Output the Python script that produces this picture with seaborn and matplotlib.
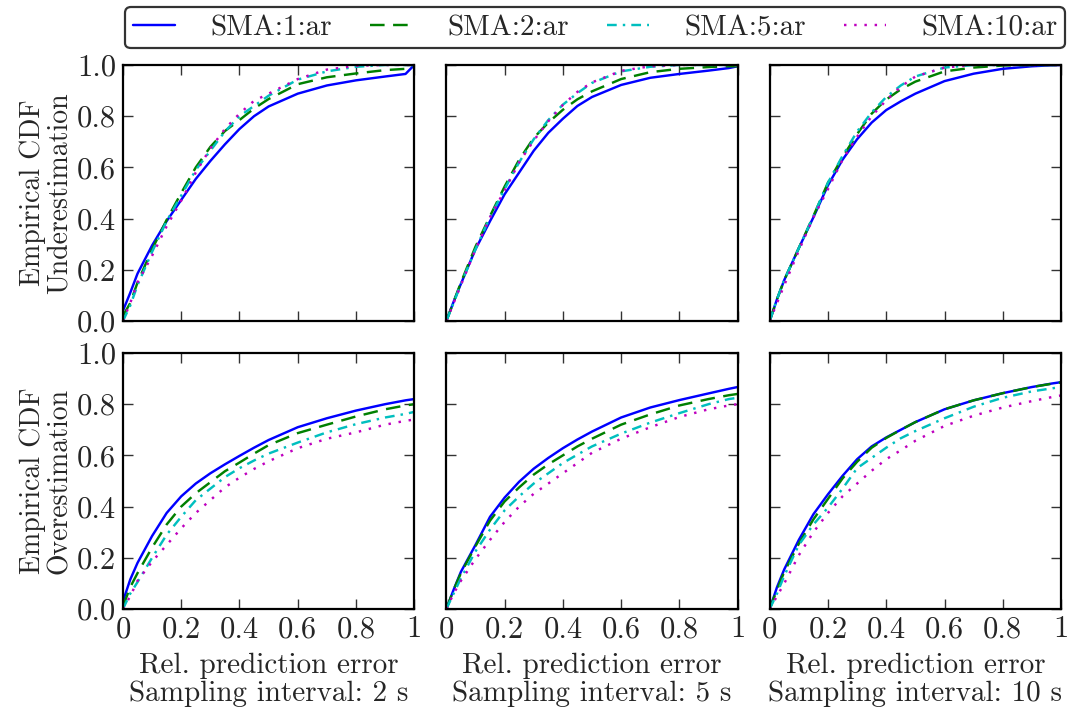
import numpy as np
import pandas as pd
import matplotlib
matplotlib.use("Agg")
import matplotlib.pyplot as plt
from matplotlib.ticker import FixedLocator, FixedFormatter
import seaborn as sns

# ---------------- data ----------------
models = ["SMA:1:ar", "SMA:2:ar", "SMA:5:ar", "SMA:10:ar"]
intervals = ["2 s", "5 s", "10 s"]
err_grid = [0, 0.025, 0.05, 0.1, 0.15, 0.2, 0.25, 0.3, 0.35, 0.4, 0.45, 0.5, 0.6, 0.7, 0.8, 0.9, 0.97, 1.0]

# Underestimation, 2 s
under_2s_sma1 = [0.04, 0.11, 0.185, 0.295, 0.39, 0.473, 0.555, 0.625, 0.69, 0.75, 0.8, 0.838, 0.888, 0.92, 0.94, 0.955, 0.965, 1.0]
under_2s_sma2 = [0.02, 0.07, 0.15, 0.28, 0.395, 0.5, 0.6, 0.68, 0.742, 0.785, 0.83, 0.867, 0.925, 0.952, 0.967, 0.98, 0.985, 0.99]
under_2s_sma5 = [0.0, 0.06, 0.14, 0.27, 0.39, 0.49, 0.59, 0.665, 0.74, 0.8, 0.84, 0.88, 0.943, 0.975, 0.993, 1.0, 1.0, 1.0]
under_2s_sma10 = [0.0, 0.07, 0.15, 0.255, 0.37, 0.47, 0.58, 0.674, 0.75, 0.81, 0.86, 0.888, 0.945, 0.982, 0.997, 1.0, 1.0, 1.0]
# Underestimation, 5 s
under_5s_sma1 = [0.0, 0.075, 0.145, 0.28, 0.39, 0.495, 0.58, 0.665, 0.735, 0.79, 0.84, 0.875, 0.922, 0.95, 0.965, 0.978, 0.988, 0.995]
under_5s_sma2 = [0.0, 0.075, 0.15, 0.29, 0.41, 0.525, 0.63, 0.715, 0.775, 0.825, 0.866, 0.897, 0.945, 0.972, 0.985, 0.992, 0.995, 0.995]
under_5s_sma5 = [0.0, 0.07, 0.145, 0.28, 0.405, 0.515, 0.62, 0.71, 0.785, 0.845, 0.89, 0.93, 0.975, 0.993, 1.0, 1.0, 1.0, 1.0]
under_5s_sma10 = [0.0, 0.07, 0.14, 0.28, 0.405, 0.51, 0.62, 0.705, 0.78, 0.844, 0.895, 0.932, 0.977, 0.995, 1.0, 1.0, 1.0, 1.0]
# Underestimation, 10 s
under_10s_sma1 = [0.0, 0.085, 0.16, 0.285, 0.405, 0.53, 0.63, 0.71, 0.775, 0.824, 0.858, 0.888, 0.937, 0.966, 0.985, 0.995, 0.999, 1.0]
under_10s_sma2 = [0.0, 0.085, 0.16, 0.285, 0.41, 0.54, 0.64, 0.73, 0.81, 0.865, 0.905, 0.935, 0.975, 0.99, 0.998, 1.0, 1.0, 1.0]
under_10s_sma5 = [0.0, 0.085, 0.16, 0.285, 0.41, 0.54, 0.645, 0.74, 0.815, 0.875, 0.92, 0.955, 0.99, 1.0, 1.0, 1.0, 1.0, 1.0]
under_10s_sma10 = [0.0, 0.07, 0.14, 0.275, 0.405, 0.515, 0.63, 0.72, 0.8, 0.862, 0.915, 0.955, 0.99, 1.0, 1.0, 1.0, 1.0, 1.0]
# Overestimation, 2 s
over_2s_sma1 = [0.03, 0.115, 0.18, 0.285, 0.375, 0.44, 0.49, 0.53, 0.565, 0.598, 0.63, 0.66, 0.71, 0.745, 0.775, 0.8, 0.815, 0.82]
over_2s_sma2 = [0.01, 0.085, 0.14, 0.24, 0.33, 0.4, 0.452, 0.495, 0.538, 0.572, 0.607, 0.64, 0.687, 0.72, 0.752, 0.78, 0.795, 0.8]
over_2s_sma5 = [0.0, 0.06, 0.105, 0.2, 0.29, 0.36, 0.425, 0.47, 0.515, 0.55, 0.58, 0.607, 0.65, 0.69, 0.722, 0.748, 0.762, 0.77]
over_2s_sma10 = [0.0, 0.05, 0.11, 0.185, 0.25, 0.315, 0.375, 0.425, 0.475, 0.513, 0.547, 0.577, 0.628, 0.665, 0.69, 0.72, 0.735, 0.74]
# Overestimation, 5 s
over_5s_sma1 = [0.0, 0.075, 0.145, 0.25, 0.36, 0.435, 0.497, 0.548, 0.59, 0.628, 0.662, 0.693, 0.748, 0.787, 0.816, 0.842, 0.86, 0.867]
over_5s_sma2 = [0.0, 0.075, 0.14, 0.245, 0.345, 0.42, 0.475, 0.525, 0.565, 0.6, 0.635, 0.665, 0.72, 0.76, 0.795, 0.82, 0.835, 0.84]
over_5s_sma5 = [0.0, 0.06, 0.12, 0.225, 0.31, 0.385, 0.44, 0.49, 0.53, 0.57, 0.603, 0.635, 0.685, 0.728, 0.765, 0.8, 0.82, 0.825]
over_5s_sma10 = [0.0, 0.06, 0.11, 0.195, 0.27, 0.34, 0.4, 0.45, 0.49, 0.53, 0.57, 0.61, 0.665, 0.71, 0.75, 0.78, 0.795, 0.8]
# Overestimation, 10 s
over_10s_sma1 = [0.0, 0.085, 0.155, 0.27, 0.37, 0.448, 0.52, 0.585, 0.635, 0.67, 0.7, 0.73, 0.78, 0.815, 0.843, 0.867, 0.881, 0.886]
over_10s_sma2 = [0.0, 0.075, 0.145, 0.255, 0.35, 0.43, 0.51, 0.575, 0.63, 0.668, 0.7, 0.73, 0.78, 0.815, 0.843, 0.867, 0.88, 0.885]
over_10s_sma5 = [0.0, 0.06, 0.13, 0.25, 0.33, 0.396, 0.47, 0.55, 0.59, 0.63, 0.667, 0.695, 0.745, 0.79, 0.825, 0.85, 0.862, 0.867]
over_10s_sma10 = [0.0, 0.05, 0.1, 0.21, 0.3, 0.375, 0.44, 0.49, 0.54, 0.585, 0.62, 0.657, 0.715, 0.755, 0.787, 0.812, 0.828, 0.834]

x_ticks = [0, 0.2, 0.4, 0.6, 0.8, 1.0]
x_tick_labels = ["0", "0.2", "0.4", "0.6", "0.8", "1"]
y_ticks = [0, 0.2, 0.4, 0.6, 0.8, 1.0]
y_tick_labels = ["0.0", "0.2", "0.4", "0.6", "0.8", "1.0"]
row_labels = ["Empirical CDF\nUnderestimation", "Empirical CDF\nOverestimation"]

panels = [
    [[under_2s_sma1, under_2s_sma2, under_2s_sma5, under_2s_sma10],
     [under_5s_sma1, under_5s_sma2, under_5s_sma5, under_5s_sma10],
     [under_10s_sma1, under_10s_sma2, under_10s_sma5, under_10s_sma10]],
    [[over_2s_sma1, over_2s_sma2, over_2s_sma5, over_2s_sma10],
     [over_5s_sma1, over_5s_sma2, over_5s_sma5, over_5s_sma10],
     [over_10s_sma1, over_10s_sma2, over_10s_sma5, over_10s_sma10]],
]

# ---------------- style ----------------
sns.set_style("ticks")
plt.rcParams["font.family"] = ["cmr10", "DejaVu Serif"]
plt.rcParams["mathtext.fontset"] = "cm"
plt.rcParams["axes.formatter.use_mathtext"] = True
FS_TICK = 22
FS_XLAB = 21
FS_YLAB = 20

palette = {"SMA:1:ar": "#0000ff", "SMA:2:ar": "#008000", "SMA:5:ar": "#00bfbf", "SMA:10:ar": "#bf00bf"}
dashes = {"SMA:1:ar": "", "SMA:2:ar": (6, 3.5), "SMA:5:ar": (4, 2.5, 1, 2.5), "SMA:10:ar": (1, 3.2)}

fig, axes = plt.subplots(2, 3, figsize=(10.71, 7.11), dpi=100, sharex=True, sharey=True)
fig.subplots_adjust(left=0.1148, right=0.9907, top=0.9086, bottom=0.1435, wspace=0.11, hspace=0.125)

for r in range(2):
    for c in range(3):
        ax = axes[r, c]
        frames = []
        for m, vals in zip(models, panels[r][c]):
            frames.append(pd.DataFrame({"err": err_grid, "cdf": vals, "model": m}))
        df = pd.concat(frames, ignore_index=True)
        sns.lineplot(data=df, x="err", y="cdf", hue="model", style="model",
                     hue_order=models, style_order=models, palette=palette,
                     dashes=dashes, linewidth=1.75, legend=False, ax=ax,
                     estimator=None, sort=False)
        for ln in ax.get_lines():
            ln.set_dash_capstyle("butt")
            ln.set_solid_joinstyle("round")
        ax.set_xlim(0, 1)
        ax.set_ylim(0, 1)
        ax.xaxis.set_major_locator(FixedLocator(x_ticks))
        ax.xaxis.set_major_formatter(FixedFormatter(x_tick_labels))
        ax.yaxis.set_major_locator(FixedLocator(y_ticks))
        ax.yaxis.set_major_formatter(FixedFormatter(y_tick_labels))
        ax.tick_params(direction="in", top=True, right=True, length=7, width=1.0,
                       labelsize=FS_TICK, color="#333333", pad=5)
        for sp in ax.spines.values():
            sp.set_linewidth(1.6)
            sp.set_color("black")
        ax.set_xlabel("")
        ax.set_ylabel("")
        if c == 0:
            ax.set_ylabel(row_labels[r], fontsize=FS_YLAB, labelpad=3, linespacing=1.0)
        if r == 1:
            ax.set_xlabel("Rel. prediction error\nSampling interval: " + intervals[c],
                          fontsize=FS_XLAB, linespacing=1.05, labelpad=7)

handles = axes[0, 0].get_lines()[:4]
leg = fig.legend(handles, models, loc="lower left", bbox_to_anchor=(0.117, 0.932, 0.877, 0.06),
                 mode="expand", ncol=4, fontsize=21, frameon=True, fancybox=True,
                 handlelength=1.45, handletextpad=1.2, borderaxespad=0.0, borderpad=0.25)
leg.get_frame().set_edgecolor("black")
leg.get_frame().set_linewidth(1.6)

fig.savefig("out.png", dpi=100)
